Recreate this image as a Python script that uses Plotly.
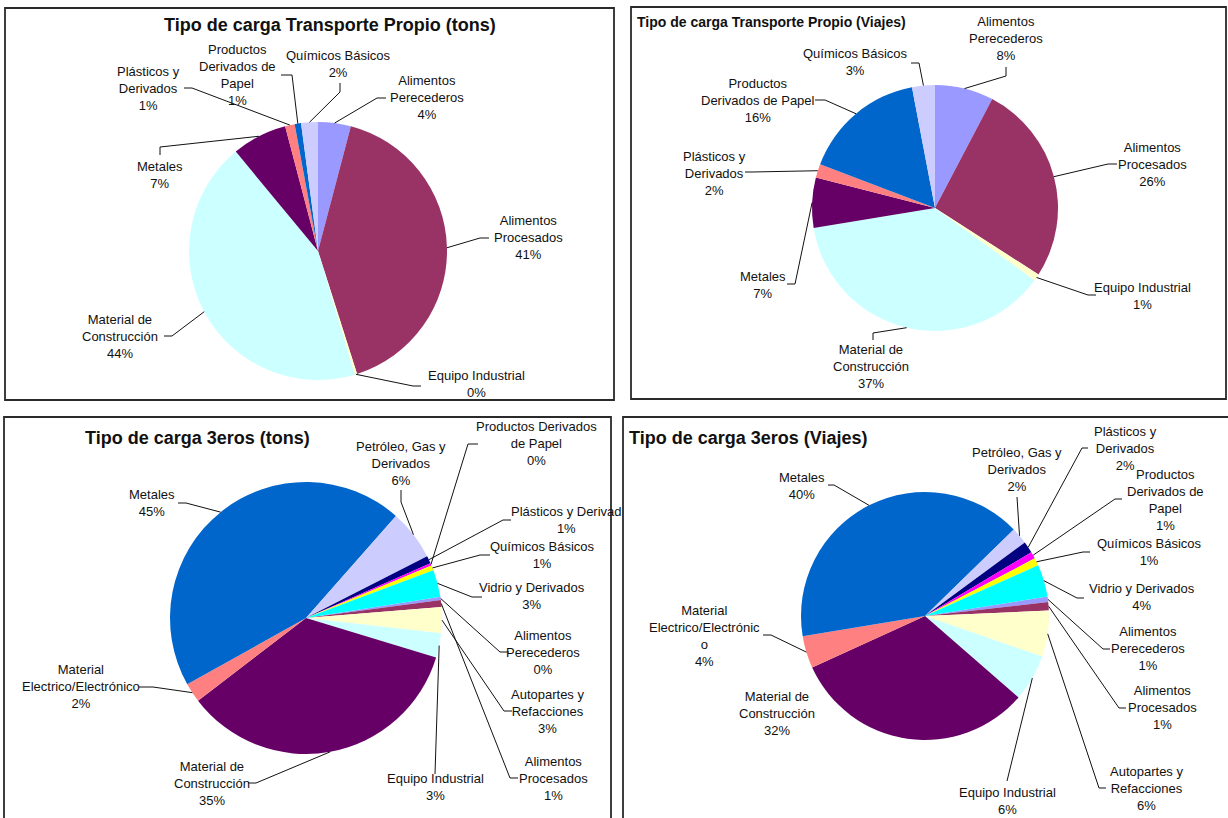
import math
import plotly.graph_objects as go

# ---------------------------------------------------------------- data
cats_propio = ["Alimentos Perecederos", "Alimentos Procesados", "Equipo Industrial",
               "Material de Construcción", "Metales", "Plásticos y Derivados",
               "Productos Derivados de Papel", "Químicos Básicos"]
vals_propio_tons = [4.1, 41.0, 0.3, 43.6, 6.9, 1.2, 0.8, 2.1]
vals_propio_viajes = [7.7, 26.4, 0.9, 37.4, 6.6, 1.8, 16.2, 3.0]

cats_terceros = ["Alimentos Perecederos", "Alimentos Procesados", "Autopartes y Refacciones",
                 "Equipo Industrial", "Material de Construcción", "Material Electrico/Electrónico",
                 "Metales", "Petróleo, Gas y Derivados", "Plásticos y Derivados",
                 "Productos Derivados de Papel", "Químicos Básicos", "Vidrio y Derivados"]
vals_terceros_tons = [0.4, 0.8, 3.1, 2.9, 34.9, 2.3, 44.6, 6.0, 0.9, 0.3, 0.6, 3.2]
vals_terceros_viajes = [0.7, 1.1, 6.0, 6.1, 31.8, 4.2, 40.3, 2.2, 1.5, 0.9, 1.0, 4.2]

titles = ["Tipo de carga Transporte Propio (tons)", "Tipo de carga Transporte Propio (Viajes)",
          "Tipo de carga 3eros (tons)", "Tipo de carga 3eros (Viajes)"]

# label wording (line breaks as shown in each chart)
names_p1 = ["Alimentos<br>Perecederos", "Alimentos<br>Procesados", "Equipo Industrial",
            "Material de<br>Construcción", "Metales", "Plásticos y<br>Derivados",
            "Productos<br>Derivados de<br>Papel", "Químicos Básicos"]
names_p2 = ["Alimentos<br>Perecederos", "Alimentos<br>Procesados", "Equipo Industrial",
            "Material de<br>Construcción", "Metales", "Plásticos y<br>Derivados",
            "Productos<br>Derivados de Papel", "Químicos Básicos"]
names_p3 = ["Alimentos<br>Perecederos", "Alimentos<br>Procesados", "Autopartes y<br>Refacciones",
            "Equipo Industrial", "Material de<br>Construcción", "Material<br>Electrico/Electrónico",
            "Metales", "Petróleo, Gas y<br>Derivados", "Plásticos y Derivad",
            "Productos Derivados<br>de Papel", "Químicos Básicos", "Vidrio y Derivados"]
names_p4 = ["Alimentos<br>Perecederos", "Alimentos<br>Procesados", "Autopartes y<br>Refacciones",
            "Equipo Industrial", "Material de<br>Construcción", "Material<br>Electrico/Electrónic<br>o",
            "Metales", "Petróleo, Gas y<br>Derivados", "Plásticos y<br>Derivados",
            "Productos<br>Derivados de<br>Papel", "Químicos Básicos", "Vidrio y Derivados"]

# ---------------------------------------------------------------- styling
palette = ["#9999FF", "#993366", "#FFFFCC", "#CCFFFF", "#660066", "#FF8080",
           "#0066CC", "#CCCCFF", "#000080", "#FF00FF", "#FFFF00", "#00FFFF"]
colors_propio = ["#9999FF", "#993366", "#FFFFCC", "#CCFFFF", "#660066", "#FF8080",
                 "#0066CC", "#CCCCFF"]

W, H = 1228, 818
FONT = "Liberation Sans, Arial, sans-serif"

# pie geometry (centre x, centre y, radius in px) and start angle
pie_geo = [(318, 251, 129, 0), (935, 208, 123, 0), (306, 618, 136, 81), (925, 616, 124, 81)]

# panel frames (x0, y0, x1, y1 px)
frames = [(5, 8, 614, 400), (631, 7, 1226, 399), (4, 417, 611, 824), (623, 417, 1234, 824)]

# title placement: (x, y, anchor, size)
title_pos = [(330, 25, "center", 18), (635, 22, "left", 14),
             (83, 438, "left", 18), (627, 438, "left", 18)]

# label centres and leader-line waypoints (px), one entry per slice
label_p1 = [((427, 98), [(377, 98), (386, 98)]),
            ((528, 238), [(480, 238), (489, 238)]),
            ((476, 384), [(413, 386), (421, 386)]),
            ((120, 336), [(172, 336), (164, 336)]),
            ((160, 175), [(160, 147), (160, 155)]),
            ((148, 88), [(192, 88), (184, 88)]),
            ((237, 75), [(292, 75), (281, 75)]),
            ((338, 64), [(340, 92), (340, 83)])]
label_p2 = [((1006, 39), [(1006, 76), (1006, 67)]),
            ((1152, 164), [(1108, 164), (1117, 164)]),
            ((1142, 296), [(1088, 295), (1096, 295)]),
            ((871, 367), [(873, 333), (873, 340)]),
            ((763, 285), [(795, 284), (787, 284)]),
            ((714, 173), [(752, 172), (745, 172)]),
            ((758, 100), [(825, 100), (815, 100)]),
            ((855, 62), [(919, 63), (911, 63)])]
label_p3 = [((543, 652), [(500, 652), (509, 652)]),
            ((553, 778), [(510, 778), (518, 778)]),
            ((547, 711), [(504, 711), (512, 711)]),
            ((435, 787), [(435, 774)]),
            ((212, 783), [(256, 783), (248, 783)]),
            ((81, 686), [(153, 687), (139, 687)]),
            ((152, 503), [(186, 503), (178, 503)]),
            ((401, 464), [(401, 502), (401, 490)]),
            ((566, 520), [(503, 520), (511, 520)]),
            ((536, 444), [(468, 444), (478, 444)]),
            ((542, 555), [(480, 555), (490, 555)]),
            ((532, 596), [(472, 597), (482, 597)])]
label_p4 = [((1148, 648), [(1103, 649), (1110, 649)]),
            ((1162, 707), [(1119, 708), (1126, 708)]),
            ((1146, 788), [(1099, 788), (1106, 788)]),
            ((1007, 801), [(1007, 781)]),
            ((777, 713), []),
            ((704, 636), [(771, 635), (763, 635)]),
            ((802, 486), [(834, 485), (828, 485)]),
            ((1017, 469), [(1017, 497)]),
            ((1125, 448), [(1082, 448), (1088, 448)]),
            ((1165, 500), [(1115, 499), (1122, 499)]),
            ((1149, 552), [(1083, 552), (1090, 552)]),
            ((1142, 597), [(1077, 598), (1084, 598)])]

panels = [
    (cats_propio, vals_propio_tons, colors_propio, names_p1, label_p1),
    (cats_propio, vals_propio_viajes, colors_propio, names_p2, label_p2),
    (cats_terceros, vals_terceros_tons, palette, names_p3, label_p3),
    (cats_terceros, vals_terceros_viajes, palette, names_p4, label_p4),
]


def px(x):
    return x / W


def py(y):
    return 1 - y / H


fig = go.Figure()
shapes = []
annotations = []

for k, (cats, vals, cols, names, labels) in enumerate(panels):
    cx, cy, r, rot = pie_geo[k]
    fig.add_trace(go.Pie(
        labels=cats, values=vals, sort=False, direction="clockwise", rotation=rot,
        marker=dict(colors=cols, line=dict(width=0)),
        textinfo="none", textposition="inside", showlegend=False,
        domain=dict(x=[px(cx - r), px(cx + r)], y=[py(cy + r), py(cy - r)]),
    ))

    total = sum(vals)
    start = rot
    for i, v in enumerate(vals):
        sweep = 360.0 * v / total
        mid = math.radians(start + sweep / 2)
        start += sweep
        rim = (cx + r * math.sin(mid), cy - r * math.cos(mid))
        pct = int(v * 100.0 / total + 0.5)
        (lx, ly), pts = labels[i]
        annotations.append(dict(
            x=px(lx), y=py(ly), xref="paper", yref="paper", showarrow=False,
            xanchor="center", yanchor="middle", align="center",
            text=f"{names[i]}<br>{pct}%",
            font=dict(family=FONT, size=13, color="#111"),
        ))
        if pts:
            path = f"M {px(rim[0])},{py(rim[1])}" + "".join(
                f" L {px(a)},{py(b)}" for a, b in pts)
            shapes.append(dict(type="path", xref="paper", yref="paper", path=path,
                               line=dict(color="#111", width=1)))

    x0, y0, x1, y1 = frames[k]
    shapes.append(dict(type="rect", xref="paper", yref="paper",
                       x0=px(x0), x1=px(x1), y0=py(y1), y1=py(y0),
                       line=dict(color="#2a2a2a", width=1.8)))
    tx, ty, anc, size = title_pos[k]
    annotations.append(dict(
        x=px(tx), y=py(ty), xref="paper", yref="paper", showarrow=False,
        xanchor=anc, yanchor="middle", text=f"<b>{titles[k]}</b>",
        font=dict(family=FONT, size=size, color="#111"),
    ))

fig.update_layout(
    width=W, height=H, margin=dict(l=0, r=0, t=0, b=0),
    paper_bgcolor="white", plot_bgcolor="white",
    shapes=shapes, annotations=annotations,
)

fig.write_html("out.html")
